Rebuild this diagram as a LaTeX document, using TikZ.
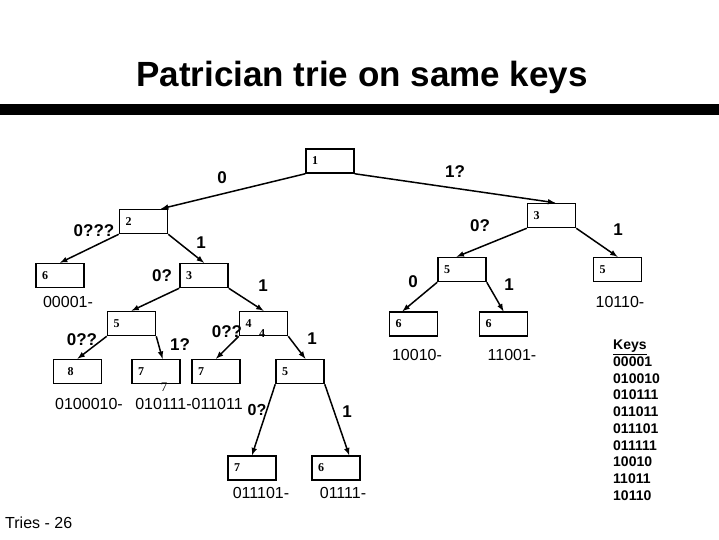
\documentclass[tikz,border=0pt]{standalone}
\usepackage{fontspec}
\setmainfont{Liberation Sans}
\newfontfamily\boxfont{Liberation Serif}
\usetikzlibrary{arrows}

\begin{document}
\begin{tikzpicture}[x=1pt,y=-1pt,
  trienode/.style={draw, line width=1.5pt, minimum width=48pt, minimum height=24pt,
    inner sep=0pt, text width=36pt, align=left,
    font=\boxfont\bfseries\fontsize{12}{12}\selectfont},
  edge/.style={line width=1.5pt, -latex},
  bit/.style={font=\bfseries\fontsize{17}{17}\selectfont},
  leaf/.style={font=\fontsize{16}{16}\selectfont},
  stray/.style={font=\boxfont\fontsize{13}{13}\selectfont}]
\useasboundingbox (0,0) rectangle (719,539);

\node[font=\bfseries\fontsize{35}{40}\selectfont] (title) at (362,77) {Patrician trie on same keys};
\fill (0,104) rectangle (719,115);

% trie nodes
\node[trienode] (n1) at (330,161) {1};
\node[trienode] (n2) at (143.5,221.5) {2};
\node[trienode] (n6a) at (60,275.5) {6};
\node[trienode] (n3a) at (204,275.5) {3};
\node[trienode] (n5a) at (131.5,323.5) {5};
\node[trienode] (n4) at (263.5,323.5) {4};
\node[trienode] (n8) at (77.5,371.5) {\hspace*{8pt}8};
\node[trienode] (n7a) at (156,371.5) {7};
\node[trienode] (n7b) at (216,371.5) {7};
\node[trienode] (n5b) at (300,371.5) {5};
\node[trienode] (n7c) at (252,468) {7};
\node[trienode] (n6c) at (336,468) {6};
\node[trienode] (n3b) at (551.5,215.5) {3};
\node[trienode] (n5c) at (462,269.5) {5};
\node[trienode] (n5d) at (617.5,269.5) {5};
\node[trienode] (n6d) at (413.5,324) {6};
\node[trienode] (n6e) at (503.5,324) {6};

% edges
\draw[edge] (n1.south west) -- (n2.36);
\draw[edge] (n1.south east) -- (n3b.74);
\draw[edge] (n2.south west) -- (n6a.north);
\draw[edge] (n2.south east) -- (n3a.north);
\draw[edge] (n3a.south west) -- (n5a.north);
\draw[edge] (n3a.south east) -- (n4.north);
\draw[edge] (n5a.south west) -- (n8.north);
\draw[edge] (n5a.south east) -- (n7a.63);
\draw[edge] (n4.south west) -- (n7b.north);
\draw[edge] (n4.south east) -- (n5b.67);
\draw[edge] (n5b.south west) -- (n7c.north);
\draw[edge] (n5b.south east) -- (n6c.44);
\draw[edge] (n3b.south west) -- (n5c.113);
\draw[edge] (n3b.south east) -- (n5d.north);
\draw[edge] (n5c.south west) -- (n6d.131);
\draw[edge] (n5c.south east) -- (n6e.north);

% edge labels
\node[bit] (b1) at (222,178) {0};
\node[bit] (b2) at (455,172) {1?};
\node[bit] (b3) at (94,231) {0???};
\node[bit] (b4) at (201,243) {1};
\node[bit] (b5) at (162,276) {0?};
\node[bit] (b6) at (263,286) {1};
\node[bit] (b7) at (82,340) {0??};
\node[bit] (b8) at (180,345) {1?};
\node[bit] (b9) at (227,332) {0??};
\node[bit] (b10) at (312,339) {1};
\node[bit,font=\bfseries\fontsize{16}{16}\selectfont] (b11) at (257,410) {0?};
\node[bit] (b12) at (347,412) {1};
\node[bit] (b13) at (480,226) {0?};
\node[bit] (b14) at (618,230) {1};
\node[bit] (b15) at (413,282) {0};
\node[bit] (b16) at (509,285) {1};
\node[stray,font=\boxfont\bfseries\fontsize{12}{12}\selectfont] (s4) at (262,334) {4};
\node[stray] (s7) at (164,387) {7};

% leaf keys
\node[leaf] (k1) at (68,302) {00001-};
\node[leaf] (k2) at (89,404) {0100010-};
\node[leaf] (k3) at (189,404) {010111-011011};
\node[leaf] (k4) at (261,493) {011101-};
\node[leaf] (k5) at (343,493) {01111-};
\node[leaf] (k6) at (620,302) {10110-};
\node[leaf] (k7) at (417,355) {10010-};
\node[leaf] (k8) at (512,355) {11001-};

\node[font=\bfseries\fontsize{14}{16.7}\selectfont, align=left, anchor=north west, inner sep=0pt] (keys) at (613,340)
  {\underline{Keys}\\00001\\010010\\010111\\011011\\011101\\011111\\10010\\11011\\10110};

\node[leaf, anchor=west, inner sep=0pt] (page) at (5,523) {Tries - 26};
\end{tikzpicture}
\end{document}
